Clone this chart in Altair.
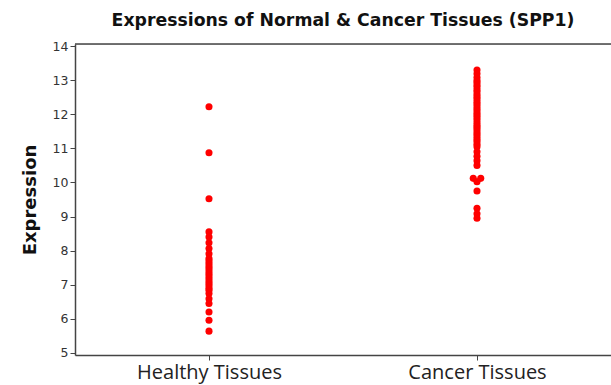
import altair as alt
import pandas as pd
import json

# Tissue groups, in axis order
groups = ["Healthy Tissues", "Cancer Tissues"]

# SPP1 expression per sample
healthy = [12.22, 10.87, 9.52, 8.55, 8.40, 8.23, 8.06, 7.91, 7.77, 7.70, 7.62,
           7.55, 7.48, 7.40, 7.33, 7.26, 7.18, 7.11, 7.04, 6.97, 6.90, 6.84,
           6.74, 6.59, 6.45, 6.20, 5.96, 5.64]
cancer = [13.30, 13.19, 13.08, 12.99, 12.93, 12.86, 12.80, 12.72, 12.66, 12.58,
          12.51, 12.45, 12.37, 12.31, 12.24, 12.17, 12.10, 12.03, 11.96, 11.90,
          11.83, 11.75, 11.68, 11.62, 11.55, 11.48, 11.41, 11.34, 11.27, 11.20,
          11.12, 11.05, 10.90, 10.77, 10.64, 10.50, 10.12, 10.12, 10.02, 9.75,
          9.24, 9.08, 8.95]

y_ticks = [5, 6, 7, 8, 9, 10, 11, 12, 13, 14]

df = pd.DataFrame({
    "group": [groups[0]] * len(healthy) + [groups[1]] * len(cancer),
    "expression": healthy + cancer,
})

W, H = 536, 311
groups_js = json.dumps(groups)

points = (
    alt.Chart(df)
    .transform_window(
        rank="row_number()", groupby=["group", "expression"]
    )
    .transform_joinaggregate(n="count()", groupby=["group", "expression"])
    # tied values sit side by side around the group centre
    .transform_calculate(
        xpos=f"indexof({groups_js}, datum.group) + (datum.rank - (datum.n + 1) / 2) * 0.028"
    )
    .mark_circle(size=50, color="#ff0000", opacity=1)
    .encode(
        x=alt.X(
            "xpos:Q",
            scale=alt.Scale(domain=[-0.5, 1.5], nice=False, zero=False),
            axis=alt.Axis(
                values=[0, 1],
                labelExpr=f"{groups_js}[datum.value]",
                title=None,
                grid=False,
                labelFont="Open Sans",
                labelFontSize=20,
                labelColor="#222222",
                labelPadding=2,
                tickSize=5,
                tickColor="#444444",
                domainColor="#444444",
                domainWidth=1.5,
            ),
        ),
        y=alt.Y(
            "expression:Q",
            scale=alt.Scale(domain=[4.94, 14.06], nice=False, zero=False),
            axis=alt.Axis(
                values=y_ticks,
                title="Expression",
                titleFont="DejaVu Sans",
                titleFontSize=18,
                titleFontWeight="bold",
                titleColor="#111111",
                titlePadding=13,
                grid=False,
                labelFont="DejaVu Sans",
                labelFontSize=12.5,
                labelColor="#333333",
                labelPadding=2,
                tickSize=5,
                tickColor="#444444",
                domainColor="#444444",
                domainWidth=1.5,
            ),
        ),
    )
)

# upper frame line of the plot area
top_line = (
    alt.Chart(pd.DataFrame({"k": [0]}))
    .mark_rule(color="#444444", strokeWidth=1.5)
    .encode(y=alt.value(0))
)

chart = (
    alt.layer(points, top_line)
    .properties(
        width=W,
        height=H,
        autosize=alt.AutoSizeParams(type="none"),
        padding={"left": 75, "top": 44, "right": 0, "bottom": 30},
        title=alt.TitleParams(
            "Expressions of Normal & Cancer Tissues (SPP1)",
            font="DejaVu Sans",
            fontSize=17.3,
            fontWeight="bold",
            color="#111111",
            anchor="middle",
            offset=11,
        ),
    )
    .configure_view(stroke=None)
    .configure(background="white")
)

chart.save("out.html", embed_options={"renderer": "svg", "actions": False})
